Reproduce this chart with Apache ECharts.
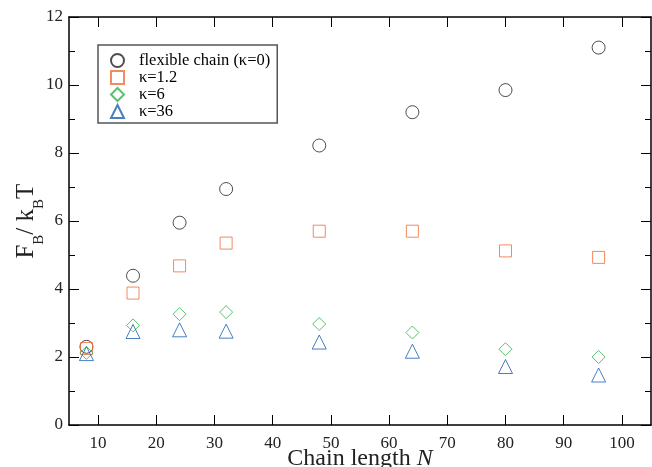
<!DOCTYPE html>
<html>
<head>
<meta charset="utf-8">
<script src="https://cdn.jsdelivr.net/npm/echarts@6/dist/echarts.min.js"></script>
<style>
  html, body { margin: 0; padding: 0; background: #fff; }
  #chart { width: 652px; height: 467px; }
</style>
</head>
<body>
<div id="chart"></div>
<script>
// chain lengths N
const chainN = [8, 16, 24, 32, 48, 64, 80, 96];
// F_B / k_B T for each stiffness
const flexible = [2.3, 4.39, 5.95, 6.94, 8.22, 9.2, 9.85, 11.1];
const kappa12 = [2.25, 3.88, 4.68, 5.35, 5.7, 5.7, 5.12, 4.93];
const kappa6 = [2.12, 2.93, 3.26, 3.32, 2.97, 2.72, 2.23, 2.0];
const kappa36 = [2.1, 2.75, 2.8, 2.76, 2.44, 2.17, 1.72, 1.47];
const xTicks = [10, 20, 30, 40, 50, 60, 70, 80, 90, 100];

const serif = "Liberation Serif, DejaVu Serif, serif";
const pairs = ys => chainN.map((n, i) => [n, ys[i]]);

function mark(name, ys, symbol, size, color) {
  return {
    name: name,
    type: "scatter",
    symbol: symbol,
    symbolSize: size,
    itemStyle: {
      color: "rgba(0,0,0,0)",
      borderColor: color,
      borderWidth: 1
    },
    emphasis: { disabled: true },
    data: pairs(ys)
  };
}

const axisLine = { show: true, onZero: false, lineStyle: { color: "#000", width: 1.5 } };

const chart = echarts.init(document.getElementById("chart"));
chart.setOption({
  animation: false,
  grid: { left: 69, right: 1, top: 17, bottom: 42, outerBoundsMode: "none" },
  legend: {
    orient: "vertical",
    left: 98,
    top: 45,
    padding: [7, 7, 3, 12],
    itemGap: 0,
    itemWidth: 13,
    itemHeight: 13,
    borderColor: "#555",
    borderWidth: 1.5,
    textStyle: { fontFamily: serif, fontSize: 16.5, lineHeight: 16, color: "#000", padding: [0, 0, 0, 10] },
    data: ["flexible chain (κ=0)", "κ=1.2", "κ=6", "κ=36"]
  },
  xAxis: [
    {
      type: "value",
      min: 5,
      max: 105,
      position: "bottom",
      axisLine: axisLine,
      splitLine: { show: false },
      axisTick: { inside: true, length: 10, customValues: xTicks, lineStyle: { color: "#000" } },
      axisLabel: { customValues: xTicks, margin: 10, fontFamily: serif, fontSize: 17, color: "#222" },
      name: "{a|Chain length }{i|N}",
      nameLocation: "middle",
      nameGap: 22,
      nameMoveOverlap: false,
      nameTextStyle: {
        verticalAlign: "top",
        rich: {
          a: { fontFamily: serif, fontSize: 24, color: "#222" },
          i: { fontFamily: serif, fontSize: 24, fontStyle: "italic", color: "#222" }
        }
      }
    },
    {
      type: "value",
      min: 5,
      max: 105,
      position: "top",
      axisLine: axisLine,
      splitLine: { show: false },
      axisTick: { inside: true, length: 10, customValues: xTicks, lineStyle: { color: "#000" } },
      axisLabel: { show: false }
    }
  ],
  yAxis: [
    {
      type: "value",
      min: 0,
      max: 12,
      interval: 2,
      position: "left",
      axisLine: axisLine,
      splitLine: { show: false },
      axisTick: { inside: true, length: 10, lineStyle: { color: "#000" } },
      minorTick: { show: true, splitNumber: 2, length: 6, lineStyle: { color: "#000" } },
      axisLabel: { margin: 6, fontFamily: serif, fontSize: 17, color: "#222" },
      name: "{m|F}{s|B}{m|/ k}{s|B}{m|T}{g| }",
      nameLocation: "middle",
      nameGap: 22,
      nameMoveOverlap: false,
      nameTextStyle: {
        rich: {
          m: { fontFamily: serif, fontSize: 25, lineHeight: 25, verticalAlign: "top", color: "#222" },
          s: { fontFamily: serif, fontSize: 15, lineHeight: 15, verticalAlign: "bottom", color: "#222" },
          g: { fontSize: 1, lineHeight: 33 }
        }
      }
    },
    {
      type: "value",
      min: 0,
      max: 12,
      interval: 2,
      position: "right",
      axisLine: axisLine,
      splitLine: { show: false },
      axisTick: { inside: true, length: 10, lineStyle: { color: "#000" } },
      minorTick: { show: true, splitNumber: 2, length: 6, lineStyle: { color: "#000" } },
      axisLabel: { show: false }
    }
  ],
  series: [
    mark("flexible chain (κ=0)", flexible, "circle", 13, "#222"),
    mark("κ=1.2", kappa12, "rect", 12, "#f26b3a"),
    mark("κ=6", kappa6, "diamond", 13, "#2fb34a"),
    mark("κ=36", kappa36, "triangle", 14, "#1c5fb0")
  ]
});
</script>
</body>
</html>
